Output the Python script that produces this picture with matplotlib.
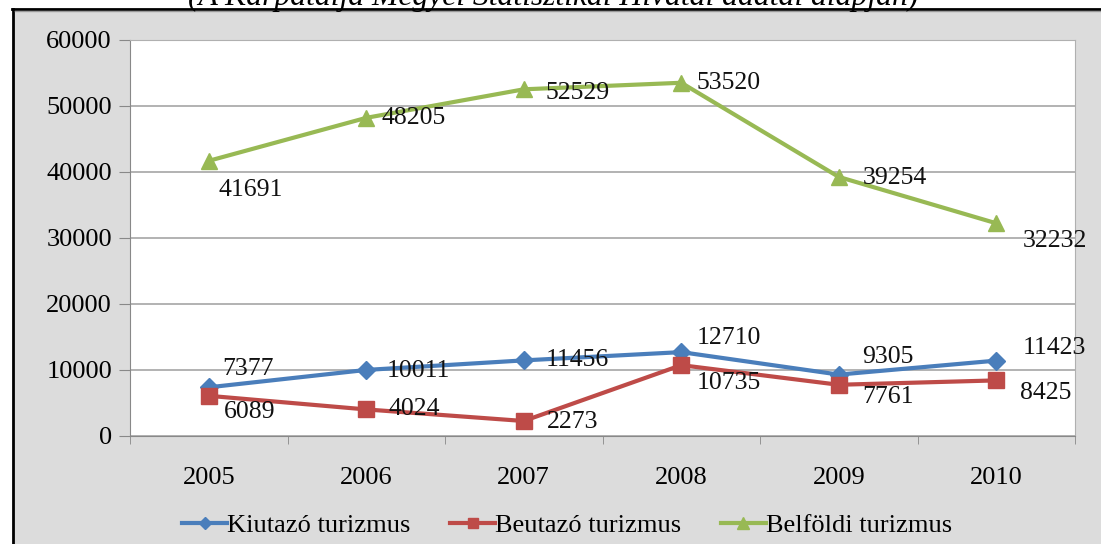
import matplotlib
matplotlib.use('Agg')
import matplotlib.pyplot as plt
from matplotlib.patches import Rectangle

years = ['2005', '2006', '2007', '2008', '2009', '2010']
kiutazo = [7377, 10011, 11456, 12710, 9305, 11423]
beutazo = [6089, 4024, 2273, 10735, 7761, 8425]
belfoldi = [41691, 48205, 52529, 53520, 39254, 32232]

plt.rcParams['font.family'] = ['Liberation Serif', 'DejaVu Serif']

W, H = 1101, 544
fig = plt.figure(figsize=(W / 100, H / 100), dpi=100)
fig.patch.set_facecolor('white')

# background: grey frame and black border
bg = fig.add_axes([0, 0, 1, 1], zorder=-1)
bg.set_xlim(0, W)
bg.set_ylim(H, 0)
bg.axis('off')
bg.add_patch(Rectangle((13, 9), W, H, facecolor='#dcdcdc', edgecolor='none'))
bg.plot([12, W], [8.5, 8.5], color='black', lw=2)
bg.plot([13, 13], [8.5, H], color='black', lw=2)
bg.plot([15, W], [11, 11], color='#9a9a9a', lw=1)

fig.text(0.502, 1 - 4.5 / H, '(A Kárpátalja Megyei Statisztikai Hivatal adatai alapján)',
         ha='center', va='baseline', fontsize=22.8, style='italic')

ax = fig.add_axes([130 / W, 1 - 436 / H, 945 / W, 396 / H])
ax.set_facecolor('white')
x = range(len(years))

colors = ['#4a7ebb', '#be4b48', '#98b954']
ax.plot(x, kiutazo, color=colors[0], lw=3, marker='D', ms=9, label='Kiutazó turizmus', zorder=3)
ax.plot(x, beutazo, color=colors[1], lw=3, marker='s', ms=11, label='Beutazó turizmus', zorder=3)
ax.plot(x, belfoldi, color=colors[2], lw=3, marker='^', ms=12, label='Belföldi turizmus', zorder=3)

fs = 18.5
k_off = [(10, 13), (15, -1), (16, 0), (11, 10), (17, 13), (19, 9)]
b_off = [(11, -12), (16, 0), (17, -1), (11, -13), (17, -9), (17, -9)]
g_off = [(7, -21), (11, 0), (16, -3), (11, 0), (17, -1), (19, -13)]
for series, offs in [(kiutazo, k_off), (beutazo, b_off), (belfoldi, g_off)]:
    for i, v in enumerate(series):
        ax.annotate(str(v), (i, v), xytext=offs[i], textcoords='offset points',
                    ha='left', va='center', fontsize=fs, color='#111111', zorder=4)

ax.set_xlim(-0.5, 5.5)
ax.set_ylim(0, 60000)
ax.set_yticks(range(0, 60001, 10000))
ax.set_xticks(list(x))
ax.set_xticklabels(years)
ax.set_xticks([i + 0.5 for i in range(-1, 6)], minor=True)
ax.tick_params(axis='x', which='major', length=0, pad=22, labelsize=19)
ax.tick_params(axis='x', which='minor', length=6, color='#888888', direction='out')
ax.tick_params(axis='y', length=8, color='#888888', labelsize=19, pad=5)
ax.grid(axis='y', color='#a6a6a6', lw=1.2)
ax.set_axisbelow(True)
for s in ['top', 'right']:
    ax.spines[s].set_color('#b0b0b0')
for s in ['left', 'bottom']:
    ax.spines[s].set_color('#888888')

handles, labels = ax.get_legend_handles_labels()
fig.legend(handles, labels, loc='center', bbox_to_anchor=(0.515, 1 - 525 / H), ncol=3,
           frameon=False, fontsize=19, handlelength=1.7, columnspacing=1.5,
           handletextpad=0.0, markerscale=0.7)

fig.savefig('out.png', dpi=100)
